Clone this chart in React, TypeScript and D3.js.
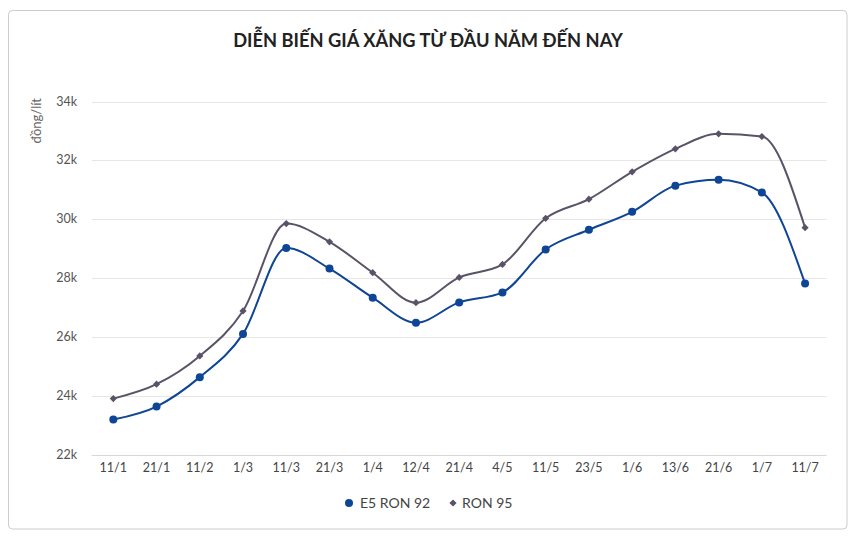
import React from "react";
import * as d3 from "d3";

const categories = ["11/1","21/1","11/2","1/3","11/3","21/3","1/4","12/4","21/4","4/5","11/5","23/5","1/6","13/6","21/6","1/7","11/7"];
const e5Ron92 = [23.19,23.63,24.63,26.10,29.02,28.32,27.33,26.48,27.17,27.51,28.97,29.64,30.25,31.14,31.34,30.91,27.81];
const ron95 = [23.90,24.39,25.35,26.88,29.85,29.23,28.18,27.16,28.02,28.46,30.03,30.68,31.61,32.39,32.90,32.81,29.71];
const yTicks = [22,24,26,28,30,32,34];
const title = "DIỄN BIẾN GIÁ XĂNG TỪ ĐẦU NĂM ĐẾN NAY";
const yTitle = "đồng/lít";
const seriesNames = ["E5 RON 92", "RON 95"];

const W = 855, H = 543;
const FONT = "Lato, 'Noto Sans', sans-serif";

export default function App() {
  const x = d3.scaleBand<string>().domain(categories).range([91.7, 826.7]);
  const y = d3.scaleLinear().domain([22, 34]).range([454.5, 101.5]);
  const cx = (c: string) => (x(c) as number) + x.bandwidth() / 2;
  const line = d3.line<number>()
    .x((_, i) => cx(categories[i]))
    .y((d) => y(d))
    .curve(d3.curveMonotoneX);
  const c1 = "#0e4595";
  const c2 = "#5a5368";
  const diamond = (px: number, py: number, r: number) =>
    `M${px},${py - r}L${px + r},${py}L${px},${py + r}L${px - r},${py}Z`;
  return (
    <svg width={W} height={H} style={{ position: "absolute", left: 0, top: 0, fontFamily: FONT }}>
      <rect x={0} y={0} width={W} height={H} fill="#fff" />
      <rect x={8.5} y={10.5} width={838.5} height={518.5} rx={4} fill="#fff" stroke="#cccccc" strokeWidth={1} />
      <text x={428} y={47} textAnchor="middle" fontSize={18.3} fontWeight={700} fill="#222">{title}</text>
      {yTicks.map((t) => (
        <g key={t}>
          <line x1={91.7} x2={826.7} y1={Math.round(y(t)) + 0.5} y2={Math.round(y(t)) + 0.5} stroke={t === 22 ? "#d8d8d8" : "#e6e6e6"} />
          <text x={77} y={y(t) + 4} textAnchor="end" fontSize={12.5} fill="#555">{t}k</text>
        </g>
      ))}
      <text transform={`translate(41,98) rotate(-90)`} textAnchor="end" fontSize={13} fill="#666">{yTitle}</text>
      {categories.map((c) => (
        <text key={c} x={cx(c)} y={472} textAnchor="middle" fontSize={12.5} fill="#444">{c}</text>
      ))}
      <path d={line(ron95) || ""} fill="none" stroke={c2} strokeWidth={2} />
      <path d={line(e5Ron92) || ""} fill="none" stroke={c1} strokeWidth={2} />
      {ron95.map((v, i) => (
        <path key={"r" + i} d={diamond(cx(categories[i]), y(v), 3.6)} fill={c2} />
      ))}
      {e5Ron92.map((v, i) => (
        <circle key={"e" + i} cx={cx(categories[i])} cy={y(v)} r={4} fill={c1} />
      ))}
      <circle cx={349} cy={503} r={4} fill={c1} />
      <text x={360} y={508} fontSize={14} fill="#444">{seriesNames[0]}</text>
      <path d={diamond(453, 503, 3.6)} fill={c2} />
      <text x={462} y={508} fontSize={14} fill="#444">{seriesNames[1]}</text>
    </svg>
  );
}
